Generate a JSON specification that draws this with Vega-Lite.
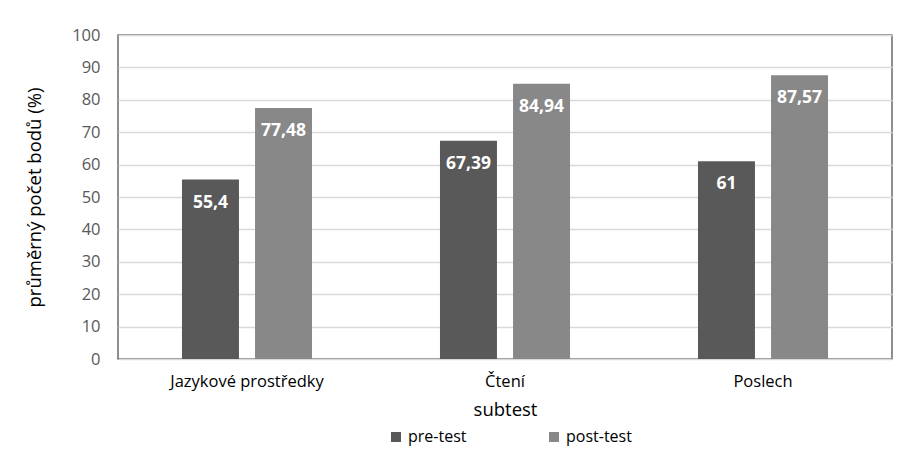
{
  "$schema": "https://vega.github.io/schema/vega-lite/v6.json",
  "autosize": {"type": "none"},
  "width": 774,
  "height": 324,
  "padding": {"left": 118, "top": 35, "right": 17, "bottom": 108},
  "background": "white",
  "config": {
    "font": "Open Sans",
    "locale": {"number": {"decimal": ",", "thousands": " ", "grouping": [3], "currency": ["", " Kč"]}},
    "view": {"stroke": "#6b6b6b", "strokeWidth": 1.5}
  },
  "data": {
    "values": [
      {"subtest": "Jazykové prostředky", "test": "pre-test", "value": 55.4},
      {"subtest": "Jazykové prostředky", "test": "post-test", "value": 77.48},
      {"subtest": "Čtení", "test": "pre-test", "value": 67.39},
      {"subtest": "Čtení", "test": "post-test", "value": 84.94},
      {"subtest": "Poslech", "test": "pre-test", "value": 61},
      {"subtest": "Poslech", "test": "post-test", "value": 87.57}
    ]
  },
  "encoding": {
    "x": {
      "field": "subtest", "type": "nominal", "sort": null,
      "scale": {"paddingInner": 0.496, "paddingOuter": 0.248},
      "axis": {"labelAngle": 0, "labelFontSize": 16.5, "labelColor": "#000", "labelPadding": 14, "ticks": false, "domain": false,
               "title": "subtest", "titleFontSize": 18.5, "titleFontWeight": "normal", "titleColor": "#000", "titlePadding": 11}
    },
    "xOffset": {"field": "test", "type": "nominal", "sort": ["pre-test", "post-test"], "scale": {"paddingInner": 0.22, "paddingOuter": 0}},
    "y": {
      "field": "value", "type": "quantitative",
      "scale": {"domain": [0, 100]},
      "axis": {"values": [0,10,20,30,40,50,60,70,80,90,100], "labelFontSize": 16.5, "labelColor": "#595959", "labelPadding": 18, "ticks": false, "domain": false,
               "gridColor": "#d9d9d9", "gridWidth": 1.5,
               "title": "průměrný počet bodů (%)", "titleFontSize": 18.5, "titleFontWeight": "normal", "titleColor": "#000", "titlePadding": 27}
    }
  },
  "layer": [
    {
      "mark": {"type": "bar"},
      "encoding": {
        "color": {
          "field": "test", "type": "nominal",
          "scale": {"domain": ["pre-test", "post-test"], "range": ["#595959", "#888888"]},
          "legend": {"title": null, "orient": "none", "direction": "horizontal", "legendX": 270, "legendY": 394,
                     "symbolType": "square", "symbolSize": 100, "symbolStrokeWidth": 0, "labelFontSize": 16, "labelColor": "#000",
                     "labelOffset": 4, "columnPadding": 79}
        }
      }
    },
    {
      "mark": {"type": "text", "baseline": "middle", "dy": 23, "color": "white", "fontWeight": "bold", "fontSize": 17.5},
      "encoding": {"text": {"field": "value", "type": "quantitative", "format": ".2~f"}}
    }
  ]
}
